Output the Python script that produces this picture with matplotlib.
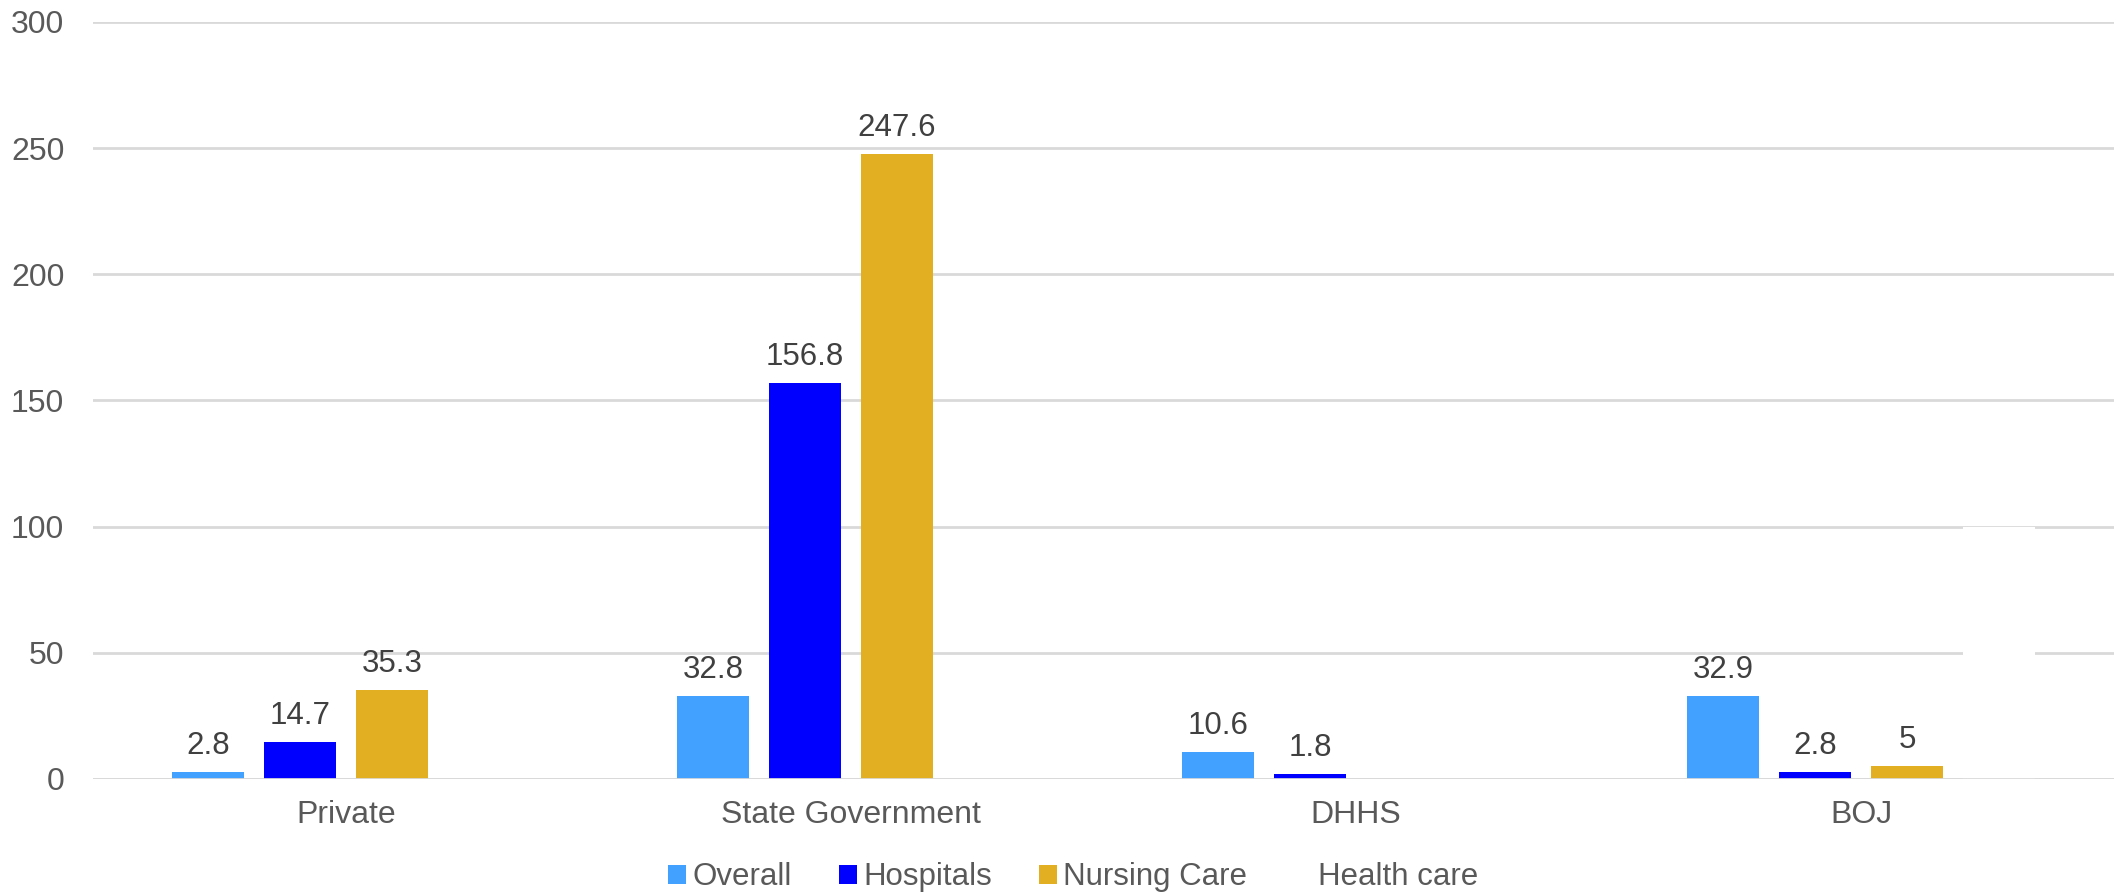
import numpy as np
import matplotlib
matplotlib.use("Agg")
import matplotlib.pyplot as plt
from matplotlib.patches import Patch

plt.rcParams['font.family'] = ['Liberation Sans', 'DejaVu Sans']

categories = ['Private', 'State Government', 'DHHS', 'BOJ']
series_names = ['Overall', 'Hospitals', 'Nursing Care', 'Health care']
overall = [2.8, 32.8, 10.6, 32.9]
hospitals = [14.7, 156.8, 1.8, 2.8]
nursing_care = [35.3, 247.6, np.nan, 5]
health_care = [np.nan, np.nan, np.nan, 100]
y_ticks = [0, 50, 100, 150, 200, 250, 300]

colors = ['#42a1ff', '#0000ff', '#e1af21', '#ffffff']
label_colors = ['#404040', '#404040', '#404040', '#ffffff']

fig = plt.figure(figsize=(21.24, 8.93), dpi=100)
ax = fig.add_axes([0.0440, 0.1277, 0.9511, 0.8477])

x = np.arange(len(categories))
pitch = 0.1822
width = 0.1426
all_series = [overall, hospitals, nursing_care, health_care]
for i, vals in enumerate(all_series):
    pos = x + (i - 1.5) * pitch
    v = np.array(vals, dtype=float)
    ax.bar(pos, np.nan_to_num(v), width=width, color=colors[i], zorder=2)
    for px, val in zip(pos, v):
        if np.isnan(val):
            continue
        txt = '%g' % val
        ax.annotate(txt, (px, val), xytext=(0, 13), textcoords='offset points',
                    ha='center', va='baseline', fontsize=22.5, color=label_colors[i],
                    zorder=4)

ax.set_xlim(-0.5, len(categories) - 0.5)
ax.set_ylim(0, 300)
ax.set_yticks(y_ticks)
ax.set_xticks(x)
ax.set_xticklabels(categories)
ax.tick_params(axis='both', length=0, labelsize=23, colors='#595959')
ax.tick_params(axis='y', pad=21)
ax.tick_params(axis='x', pad=15)
for s in ax.spines.values():
    s.set_visible(False)
ax.yaxis.grid(True, color='#d9d9d9', linewidth=2)
ax.set_axisbelow(True)
ax.axhline(0, color='#d9d9d9', linewidth=2, zorder=3)

handles = [Patch(facecolor=c, edgecolor='none') for c in colors]
leg = fig.legend(handles, series_names, loc='center', bbox_to_anchor=(0.5054, 0.0175),
                 ncol=4, frameon=False, fontsize=22.5, handlelength=0.58, handleheight=0.58,
                 handletextpad=0.2, columnspacing=1.5, borderpad=0, labelcolor='#595959')

fig.savefig('out.png', dpi=100, facecolor='white')
